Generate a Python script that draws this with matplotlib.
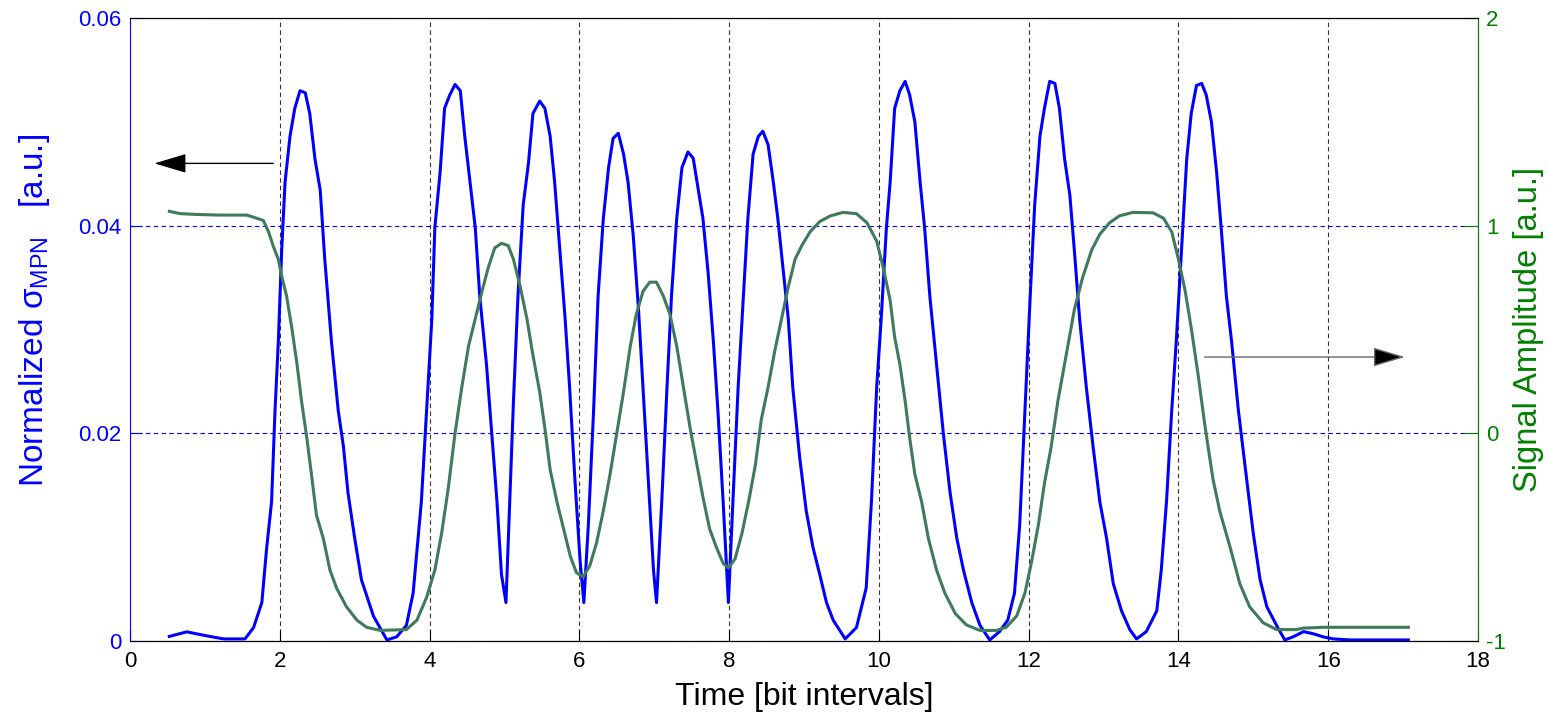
import numpy as np
import matplotlib
matplotlib.use("Agg")
import matplotlib.pyplot as plt

plt.rcParams['font.family'] = ['Liberation Sans', 'DejaVu Sans']
plt.rcParams['mathtext.fontset'] = 'custom'
plt.rcParams['mathtext.rm'] = 'Liberation Sans'
plt.rcParams['mathtext.it'] = 'Liberation Sans'
plt.rcParams['axes.unicode_minus'] = False

# normalized sigma_MPN (left axis)
t_sigma = [0.525, 0.757, 1.02, 1.25, 1.535, 1.65, 1.76, 1.825, 1.89, 1.936, 1.98, 2.025, 2.07, 2.136,
           2.2, 2.27, 2.34, 2.4, 2.47, 2.54, 2.6, 2.69, 2.78, 2.85, 2.91, 3.0, 3.09, 3.25, 3.43, 3.56,
           3.69, 3.78, 3.89, 3.96, 4.03, 4.07, 4.14, 4.2, 4.27, 4.34, 4.41, 4.47, 4.54, 4.61, 4.67,
           4.76, 4.83, 4.9, 4.96, 5.02, 5.07, 5.12, 5.18, 5.25, 5.32, 5.38, 5.47, 5.54, 5.61, 5.67,
           5.74, 5.81, 5.87, 5.94, 6.01, 6.06, 6.12, 6.19, 6.25, 6.32, 6.39, 6.45, 6.52, 6.59, 6.65,
           6.72, 6.79, 6.85, 6.92, 6.99, 7.03, 7.10, 7.17, 7.23, 7.30, 7.37, 7.45, 7.52, 7.59, 7.65,
           7.72, 7.79, 7.85, 7.92, 7.99, 8.05, 8.12, 8.19, 8.25, 8.32, 8.39, 8.45, 8.52, 8.59, 8.65,
           8.72, 8.79, 8.85, 8.94, 9.03, 9.12, 9.21, 9.30, 9.39, 9.55, 9.70, 9.83, 9.9, 9.97, 10.03,
           10.10, 10.15, 10.21, 10.28, 10.35, 10.41, 10.48, 10.55, 10.61, 10.68, 10.77, 10.86, 10.95,
           11.04, 11.13, 11.24, 11.35, 11.48, 11.61, 11.72, 11.81, 11.88, 11.95, 12.02, 12.08, 12.15,
           12.21, 12.28, 12.35, 12.41, 12.48, 12.55, 12.61, 12.68, 12.77, 12.86, 12.95, 13.04, 13.13,
           13.24, 13.35, 13.44, 13.57, 13.71, 13.77, 13.84, 13.91, 13.97, 14.04, 14.11, 14.17, 14.24,
           14.31, 14.37, 14.44, 14.51, 14.57, 14.64, 14.71, 14.80, 14.91, 15.0, 15.09, 15.18, 15.31,
           15.42, 15.53, 15.67, 15.80, 15.93, 16.07, 16.29, 17.07]
sigma = [0.00044, 0.00088, 0.0005, 0.0002, 0.0002, 0.0013, 0.0037, 0.009, 0.0134, 0.0222, 0.0288,
         0.0376, 0.0442, 0.0486, 0.0513, 0.053, 0.0528, 0.0508, 0.0464, 0.0434, 0.0368, 0.0288,
         0.0222, 0.0187, 0.0143, 0.0099, 0.0059, 0.0024, 0.0001, 0.0004, 0.0015, 0.0046, 0.0134,
         0.0222, 0.031, 0.0398, 0.0451, 0.0513, 0.0526, 0.0536, 0.053, 0.0486, 0.0442, 0.0398,
         0.0332, 0.0266, 0.02, 0.0134, 0.0064, 0.0037, 0.0134, 0.0231, 0.0332, 0.042, 0.046, 0.0508,
         0.052, 0.0513, 0.0486, 0.0442, 0.0376, 0.031, 0.0244, 0.0156, 0.0077, 0.0037, 0.0112,
         0.0222, 0.0332, 0.0407, 0.0456, 0.0484, 0.0489, 0.0469, 0.0442, 0.039, 0.0319, 0.0244,
         0.0156, 0.0068, 0.0037, 0.0134, 0.0244, 0.0332, 0.0407, 0.0456, 0.0471, 0.0465, 0.0434,
         0.0407, 0.0354, 0.0288, 0.0222, 0.0134, 0.0037, 0.0134, 0.0244, 0.0332, 0.0407, 0.0469,
         0.0486, 0.0491, 0.0478, 0.0442, 0.0407, 0.0359, 0.031, 0.0244, 0.0178, 0.0125, 0.009,
         0.0064, 0.0037, 0.002, 0.0002, 0.0013, 0.0051, 0.0134, 0.0244, 0.031, 0.0398, 0.0442,
         0.0513, 0.053, 0.0539, 0.0526, 0.05, 0.0442, 0.0398, 0.0332, 0.0266, 0.02, 0.0143, 0.0099,
         0.0068, 0.0037, 0.0015, 0.0001, 0.0009, 0.002, 0.0046, 0.0112, 0.0222, 0.0332, 0.042,
         0.0486, 0.0513, 0.0539, 0.0537, 0.0513, 0.0464, 0.0429, 0.0376, 0.031, 0.0244, 0.0187,
         0.0134, 0.0099, 0.0055, 0.0029, 0.0011, 0.0002, 0.0009, 0.0029, 0.0068, 0.0134, 0.0222,
         0.0288, 0.0376, 0.0464, 0.0508, 0.0535, 0.0537, 0.0526, 0.05, 0.0451, 0.0398, 0.0332,
         0.0288, 0.0222, 0.0156, 0.0103, 0.0059, 0.0033, 0.0015, 0.0001, 0.0004, 0.0009, 0.0007,
         0.0004, 0.0002, 0.0001, 0.0001]

# signal amplitude (right axis)
t_amp = [0.525, 0.67, 0.89, 1.2, 1.56, 1.69, 1.78, 1.85, 1.91, 1.98, 2.03, 2.09, 2.16, 2.23, 2.29,
         2.36, 2.43, 2.49, 2.58, 2.67, 2.76, 2.89, 3.03, 3.16, 3.34, 3.69, 3.83, 3.96, 4.07, 4.16,
         4.25, 4.34, 4.43, 4.52, 4.61, 4.70, 4.78, 4.87, 4.96, 5.05, 5.12, 5.21, 5.30, 5.38, 5.47,
         5.54, 5.61, 5.70, 5.79, 5.88, 5.96, 6.05, 6.14, 6.23, 6.32, 6.41, 6.50, 6.59, 6.68, 6.76,
         6.85, 6.94, 7.03, 7.12, 7.21, 7.30, 7.39, 7.48, 7.57, 7.65, 7.74, 7.83, 7.92, 7.99, 8.08,
         8.17, 8.26, 8.35, 8.43, 8.52, 8.61, 8.70, 8.79, 8.88, 8.97, 9.08, 9.21, 9.35, 9.52, 9.70,
         9.84, 9.97, 10.06, 10.15, 10.21, 10.28, 10.35, 10.41, 10.48, 10.57, 10.66, 10.77, 10.88,
         11.02, 11.17, 11.35, 11.57, 11.70, 11.84, 11.95, 12.04, 12.13, 12.21, 12.30, 12.39, 12.50,
         12.61, 12.72, 12.84, 12.95, 13.08, 13.21, 13.39, 13.66, 13.80, 13.91, 14.0, 14.09, 14.17,
         14.26, 14.35, 14.46, 14.55, 14.69, 14.82, 14.95, 15.13, 15.31, 15.57, 15.67, 15.93, 17.07]
amp = [1.069, 1.058, 1.054, 1.051, 1.051, 1.036, 1.025, 0.97, 0.904, 0.838, 0.75, 0.662, 0.508,
       0.332, 0.156, -0.02, -0.219, -0.395, -0.505, -0.659, -0.747, -0.835, -0.90, -0.934, -0.949,
       -0.945, -0.90, -0.79, -0.659, -0.483, -0.263, 0.001, 0.222, 0.42, 0.551, 0.684, 0.794,
       0.893, 0.915, 0.904, 0.838, 0.706, 0.551, 0.376, 0.2, 0.023, -0.175, -0.329, -0.461,
       -0.593, -0.67, -0.692, -0.637, -0.527, -0.373, -0.197, 0.001, 0.2, 0.42, 0.573, 0.684,
       0.728, 0.728, 0.662, 0.573, 0.42, 0.222, 0.023, -0.153, -0.307, -0.461, -0.549, -0.626,
       -0.648, -0.604, -0.483, -0.329, -0.153, 0.067, 0.222, 0.398, 0.551, 0.706, 0.838, 0.904,
       0.97, 1.02, 1.047, 1.064, 1.058, 1.014, 0.926, 0.794, 0.64, 0.463, 0.332, 0.156, -0.02,
       -0.197, -0.329, -0.505, -0.659, -0.769, -0.868, -0.923, -0.949, -0.949, -0.934, -0.879,
       -0.769, -0.615, -0.439, -0.241, -0.065, 0.156, 0.376, 0.596, 0.75, 0.882, 0.959, 1.014,
       1.047, 1.064, 1.062, 1.036, 0.97, 0.838, 0.684, 0.508, 0.288, 0.045, -0.219, -0.373,
       -0.549, -0.725, -0.835, -0.912, -0.945, -0.945, -0.938, -0.934, -0.934]

blue = '#0000ff'
green = '#008000'
line_green = '#3f7a5a'

fig = plt.figure(figsize=(15.48, 7.15), dpi=100)
ax = fig.add_axes([0.084, 0.1035, 0.8708, 0.8713])
ax2 = ax.twinx()

ax.plot(t_sigma, sigma, color=blue, lw=2.2, zorder=3)
ax2.plot(t_amp, amp, color=line_green, lw=2.2)

ax.set_xlim(0, 18)
ax.set_ylim(0, 0.06)
ax2.set_ylim(-1, 2)
ax.set_xticks(np.arange(0, 19, 2))
ax.set_yticks([0, 0.02, 0.04, 0.06])
ax.set_yticklabels(['0', '0.02', '0.04', '0.06'])
ax2.set_yticks([-1, 0, 1, 2])

dash = (0, (4, 3))
ax.grid(axis='x', color='k', linestyle=dash, lw=0.8, alpha=0.8)
ax.grid(axis='y', color=blue, linestyle=dash, lw=0.8)

ax.spines['left'].set_color(blue)
ax.spines['right'].set_visible(False)
ax2.spines['left'].set_visible(False)
ax2.spines['right'].set_color(green)
for a in (ax, ax2):
    a.spines['top'].set_color('k')
    a.spines['bottom'].set_color('k')

ax.tick_params(axis='x', direction='in', length=8, labelsize=16, pad=7, colors='k')
ax.tick_params(axis='y', direction='in', length=8, labelsize=16, colors=blue, pad=6)
ax2.tick_params(axis='y', direction='in', length=10, labelsize=16, colors=green, pad=6)

ax.set_xlabel('Time [bit intervals]', fontsize=23)
ax.set_ylabel(r'Normalized $\sigma_{\mathrm{MPN}}$   [a.u.]', fontsize=24, color=blue)
ax2.set_ylabel('Signal Amplitude [a.u.]', fontsize=23.5, color=green, rotation=90)
ax.xaxis.set_label_coords(0.5, -0.066)
ax.yaxis.set_label_coords(-0.058, 0.53)
ax2.yaxis.set_label_coords(1.026, 0.5)

# direction arrows
ax.annotate('', xy=(0.29, 0.046), xytext=(1.95, 0.046),
            arrowprops=dict(arrowstyle='-|>,head_length=1.0,head_width=0.3',
                            color='k', lw=1.0, mutation_scale=20))
ax.annotate('', xy=(17.06, 0.02735), xytext=(14.31, 0.02735),
            arrowprops=dict(arrowstyle='-|>,head_length=1.0,head_width=0.3',
                            facecolor='k', edgecolor='#666666', lw=1.0, mutation_scale=20))

fig.savefig('out.png', dpi=100)
